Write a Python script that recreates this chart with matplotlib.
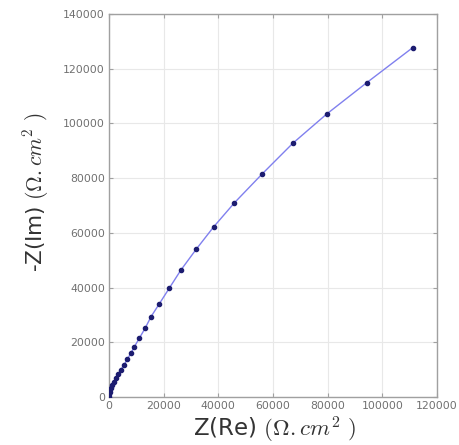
import matplotlib
matplotlib.use("Agg")
import matplotlib.pyplot as plt

plt.rcParams['mathtext.fontset'] = 'cm'

z_re = [0, 100, 400, 700, 1200, 1800, 2600, 3400, 4300, 5500, 6700, 8000, 9300,
        11100, 13200, 15400, 18300, 22000, 26300, 31900, 38300, 45900, 55900,
        67200, 79600, 94300, 111100]
z_im = [0, 1000, 1900, 3200, 4400, 5600, 6800, 8400, 9900, 11700, 13800, 16000, 18400,
        21500, 25100, 29400, 33900, 39700, 46400, 54000, 62200, 71000, 81400,
        92700, 103400, 114900, 127700]

x_ticks = [0, 20000, 40000, 60000, 80000, 100000, 120000]
y_ticks = [0, 20000, 40000, 60000, 80000, 100000, 120000, 140000]

fig = plt.figure(figsize=(4.59, 4.45), dpi=100)
ax = fig.add_axes([109/459, 48/445, 328/459, 383/445])

ax.plot(z_re, z_im, '-', color='#8080ee', lw=1.0, zorder=2)
ax.plot(z_re, z_im, 'o', color='#1c1c70', ms=3.0, mec='#1c1c70', zorder=3)

ax.set_xlim(0, 120000)
ax.set_ylim(0, 140000)
ax.set_xticks(x_ticks)
ax.set_yticks(y_ticks)
ax.set_xticklabels([str(t) for t in x_ticks])
ax.set_yticklabels([str(t) for t in y_ticks])
ax.grid(True, color='#e8e8e8', lw=0.8)
ax.set_axisbelow(True)
for s in ax.spines.values():
    s.set_color('#a0a0a0')
    s.set_linewidth(1.0)
ax.tick_params(axis='both', labelsize=7.8, labelcolor='#707070', colors='#a0a0a0',
               direction='in', length=3, top=True, right=True, pad=3)

ax.set_xlabel(r'Z(Re) $(\Omega.cm^2\ )$', fontsize=16.5, color='#333333')
ax.set_ylabel(r'-Z(Im) $(\Omega.cm^2\ )$', fontsize=15.5, color='#333333')
ax.xaxis.set_label_coords(0.503, -0.045)
ax.yaxis.set_label_coords(-0.177, 0.535)

fig.savefig('out.png', dpi=100)
